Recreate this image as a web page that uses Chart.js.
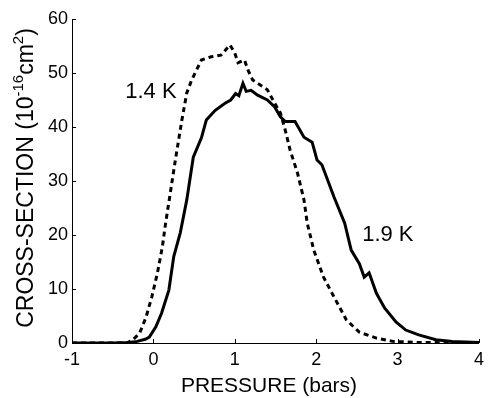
<!DOCTYPE html>
<html>
<head>
<meta charset="utf-8">
<script src="https://cdn.jsdelivr.net/npm/chart.js@4"></script>
<style>
  html, body { margin: 0; padding: 0; background: #fff; }
  #wrap { width: 490px; height: 398px; }
</style>
</head>
<body>
<div id="wrap"><canvas id="chart" width="490" height="398"></canvas></div>
<script>
// Data (pressure in bars, cross-section in 1e-16 cm^2)
const pressure19 = [-1, -0.5, -0.3, -0.2, -0.1, -0.05, 0.03, 0.10, 0.19, 0.25, 0.33, 0.41, 0.49, 0.59, 0.65, 0.76, 0.88, 0.95, 1.01, 1.05, 1.10, 1.14, 1.20, 1.28, 1.40, 1.49, 1.56, 1.62, 1.74, 1.85, 1.95, 2.01, 2.07, 2.22, 2.35, 2.43, 2.53, 2.59, 2.65, 2.74, 2.84, 2.98, 3.10, 3.26, 3.47, 3.67, 4.0];
const cross19 =    [0, 0, 0.1, 0.3, 0.7, 1.1, 3, 5.5, 9.8, 16, 20.4, 26.5, 34.4, 38, 41.3, 43.1, 44.4, 45, 46.2, 45.8, 48.1, 46.6, 46.8, 45.9, 45, 43.7, 41.9, 41, 41, 38.1, 37.2, 33.9, 33, 27, 22.2, 17.2, 14.7, 12.2, 13, 9.2, 6.5, 3.9, 2.4, 1.5, 0.6, 0.3, 0.1];

const pressure14 = [-1, -0.5, -0.33, -0.26, -0.17, -0.09, -0.02, 0.05, 0.11, 0.15, 0.21, 0.27, 0.35, 0.41, 0.47, 0.59, 0.71, 0.83, 0.94, 1.0, 1.04, 1.12, 1.16, 1.22, 1.40, 1.49, 1.56, 1.62, 1.68, 1.77, 1.85, 1.89, 1.97, 2.09, 2.22, 2.37, 2.53, 2.74, 2.94, 3.26, 4.0];
const cross14 =    [0, 0, 0, 0.5, 1.8, 4.8, 8.5, 13, 17.8, 22.2, 28, 33.9, 41.3, 46.3, 48.7, 52.4, 53, 53.3, 55.2, 53.7, 51.9, 52.4, 50.6, 48.7, 46.9, 44.4, 42.6, 39.4, 35.7, 31.5, 26.5, 22.2, 17.2, 12.2, 8.5, 4.3, 2.0, 0.9, 0.3, 0.1, 0];

const xTicks = [-1, 0, 1, 2, 3, 4];
const yTicks = [0, 10, 20, 30, 40, 50, 60];

// curve labels, in data coordinates
const curveLabels = [
  { text: '1.4 K', x: -0.03, y: 46.5 },
  { text: '1.9 K', x: 2.88, y: 20 }
];

const FONT = '"Liberation Sans", Arial, Helvetica, sans-serif';

function toPoints(xs, ys) {
  return xs.map((x, i) => ({ x: x, y: ys[i] }));
}

// inward tick marks, axis titles and curve labels
const decorations = {
  id: 'decorations',
  afterDraw(chart) {
    const { ctx, chartArea, scales } = chart;
    const xs = scales.x, ys = scales.y;
    ctx.save();
    ctx.strokeStyle = '#000';
    ctx.lineWidth = 1;
    ctx.beginPath();
    xTicks.forEach(v => {
      const px = Math.round(xs.getPixelForValue(v)) + 0.5;
      ctx.moveTo(px, chartArea.bottom);
      ctx.lineTo(px, chartArea.bottom - 4);
    });
    yTicks.forEach(v => {
      const py = Math.round(ys.getPixelForValue(v)) + 0.5;
      ctx.moveTo(chartArea.left, py);
      ctx.lineTo(chartArea.left + 4, py);
    });
    ctx.stroke();

    ctx.fillStyle = '#000';
    ctx.textBaseline = 'middle';
    ctx.textAlign = 'center';
    ctx.font = '22px ' + FONT;
    curveLabels.forEach(l => {
      ctx.fillText(l.text, xs.getPixelForValue(l.x), ys.getPixelForValue(l.y));
    });

    // x title
    ctx.font = '21px ' + FONT;
    ctx.fillText('PRESSURE (bars)', 269, 386);

    // y title with superscripts
    const parts = [
      { t: 'CROSS-SECTION (10', sup: false },
      { t: '-16', sup: true },
      { t: 'cm', sup: false },
      { t: '2', sup: true },
      { t: ')', sup: false }
    ];
    const big = '23px ' + FONT, small = '15px ' + FONT;
    let total = 0;
    parts.forEach(p => {
      ctx.font = p.sup ? small : big;
      p.w = ctx.measureText(p.t).width;
      total += p.w;
    });
    ctx.translate(25, 178);
    ctx.rotate(-Math.PI / 2);
    ctx.textAlign = 'left';
    ctx.textBaseline = 'alphabetic';
    let cx = -total / 2;
    parts.forEach(p => {
      ctx.font = p.sup ? small : big;
      ctx.fillText(p.t, cx, p.sup ? -2 : 8);
      cx += p.w;
    });
    ctx.restore();
  }
};

new Chart(document.getElementById('chart'), {
  type: 'line',
  data: {
    datasets: [
      {
        label: '1.9 K',
        data: toPoints(pressure19, cross19),
        borderColor: '#000',
        borderWidth: 3,
        pointRadius: 0,
        tension: 0,
        fill: false
      },
      {
        label: '1.4 K',
        data: toPoints(pressure14, cross14),
        borderColor: '#000',
        borderWidth: 3,
        borderDash: [5, 4],
        pointRadius: 0,
        tension: 0,
        fill: false
      }
    ]
  },
  options: {
    responsive: false,
    animation: false,
    layout: { padding: { left: 0, right: 6, top: 19, bottom: 0 } },
    plugins: {
      legend: { display: false },
      tooltip: { enabled: false }
    },
    scales: {
      x: {
        type: 'linear',
        min: -1,
        max: 4,
        afterBuildTicks: s => { s.ticks = xTicks.map(v => ({ value: v })); },
        afterFit: s => { s.height = 55; },
        grid: { display: false, drawTicks: false },
        border: { display: true, color: '#000', width: 1 },
        ticks: { color: '#000', padding: 6, font: { size: 18, family: FONT }, maxRotation: 0 }
      },
      y: {
        type: 'linear',
        min: 0,
        max: 60,
        afterBuildTicks: s => { s.ticks = yTicks.map(v => ({ value: v })); },
        afterFit: s => { s.width = 72; },
        grid: { display: false, drawTicks: false },
        border: { display: true, color: '#000', width: 1 },
        ticks: { color: '#000', padding: 4, font: { size: 18, family: FONT } }
      }
    }
  },
  plugins: [decorations]
});
</script>
</body>
</html>
